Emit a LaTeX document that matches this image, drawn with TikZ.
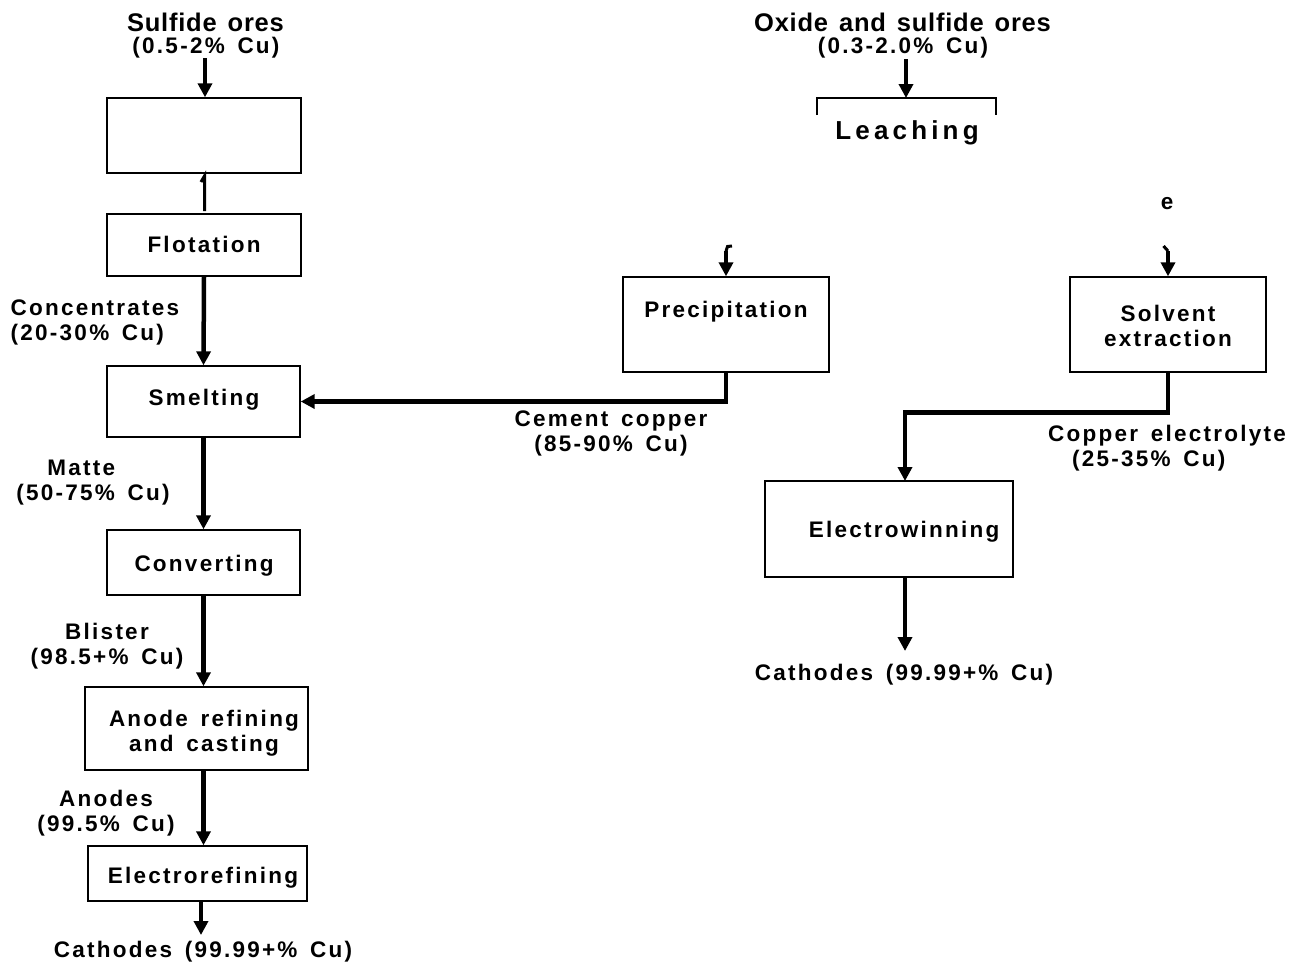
\documentclass[tikz,border=0pt]{standalone}
\usepackage{fontspec}
\usetikzlibrary{arrows.meta}
\newfontfamily\labfont{Liberation Sans}[LetterSpace=10,WordSpace=1.5]
\newfontfamily\ttlfont{Liberation Sans}[LetterSpace=3,WordSpace=1.4]
\newfontfamily\leachfont{Liberation Sans}[LetterSpace=16]
\tikzset{
  lab/.style={font=\fontsize{22.5bp}{25bp}\selectfont\labfont\bfseries, align=center, inner sep=0pt, yshift=-2bp},
  ttl/.style={font=\fontsize{25.5bp}{28bp}\selectfont\ttlfont\bfseries, inner sep=0pt, yshift=-1bp},
  box/.style={draw, line width=1.4bp, inner sep=0pt},
  flow/.style={line width=4.5bp, -{Triangle[width=14bp,length=14bp]}},
  stub/.style={line width=3bp},
  thin/.style={line width=1.4bp}
}
\begin{document}
\begin{tikzpicture}[x=1bp,y=-1bp]
\useasboundingbox (0,0) rectangle (1304,963);

% ---- left column
\node[ttl] (t1) at (205.5,21) {Sulfide ores};
\node[lab] (t1s) at (206,46) {(0.5-2\% Cu)};
\node[box, minimum width=194bp, minimum height=75bp] (grind) at (204,135.5) {};
\node[box, minimum width=194bp, minimum height=62bp] (flot) at (204,245) {};
\node[lab] (flott) at (204,242) {Flotation};
\node[box, minimum width=193bp, minimum height=71bp] (smelt) at (203.5,401.5) {};
\node[lab] (smeltt) at (204,398) {Smelting};
\node[box, minimum width=193bp, minimum height=65bp] (conv) at (203.5,562.5) {};
\node[lab] (convt) at (204,564) {Converting};
\node[box, minimum width=223bp, minimum height=83bp] (anode) at (196.5,728.5) {};
\node[lab] (anodet) at (204,731) {Anode refining\\and casting};
\node[box, minimum width=219bp, minimum height=55bp] (eref) at (197.5,873.5) {};
\node[lab] (ereft) at (203,876) {Electrorefining};
\node[lab] (cath1) at (203,950) {Cathodes (99.99+\% Cu)};

\node[lab, align=left] (conc) at (95,320) {Concentrates\\(20-30\% Cu)};
\node[lab, align=left] (matte) at (93,480.5) {\hspace*{31bp}Matte\\(50-75\% Cu)};
\node[lab] (blister) at (107,644.5) {Blister\\(98.5+\% Cu)};
\node[lab] (anodes) at (106,811.5) {Anodes\\(99.5\% Cu)};

\coordinate (a0) at (205,58);
\draw[flow] (a0) -- (a0 |- grind.north);
\coordinate (s0) at (204.5,211);
\draw[stub] (201,182) coordinate (s1) -- (204.5,176) coordinate (s2) -- (s0);
\draw[flow] (flot.south) -- (smelt.north);
\draw[flow] (smelt.south) -- (conv.north);
\draw[flow] (conv.south) -- (conv.south |- anode.north);
\draw[flow] (anode.south -| conv.south) -- (conv.south |- eref.north);
\coordinate (e0) at (201,901);
\draw[flow] (e0) -- (201,935) coordinate (c1);

% ---- right part
\node[ttl] (t2) at (902.5,21) {Oxide and sulfide ores};
\node[lab] (t2s) at (903,46) {(0.3-2.0\% Cu)};
\coordinate (lt) at (906,98);
\draw[thin] (817,115) coordinate (l1) -- (817,98) coordinate (l2) -- (996,98) coordinate (l3) -- (996,115) coordinate (l4);
\node[font=\fontsize{26bp}{28bp}\selectfont\leachfont\bfseries, inner sep=0pt, yshift=-2bp] (leach) at (907,131) {Leaching};
\draw[flow] (906,59) coordinate (a2) -- (lt);

\node[lab] (e) at (1167,202) {e};

\node[box, minimum width=206bp, minimum height=95bp] (precip) at (726,324.5) {};
\node[lab] (precipt) at (726,310) {Precipitation};
\node[box, minimum width=196bp, minimum height=95bp] (solv) at (1168,324.5) {};
\node[lab] (solvt) at (1168,323.5) {Solvent\\extraction};
\node[box, minimum width=248bp, minimum height=96bp] (ewin) at (889,529) {};
\node[lab] (ewint) at (904,530) {Electrowinning};
\node[lab] (cath2) at (904,673) {Cathodes (99.99+\% Cu)};

\node[lab] (cement) at (611,431.5) {Cement copper\\(85-90\% Cu)};
\node[lab, align=left] (celec) at (1167,446.5) {Copper electrolyte\\\hspace*{24bp}(25-35\% Cu)};

% precipitation input with hook
\draw[stub] (732,246) coordinate (p1) -- (727.5,246.5) coordinate (p2) -- (726,251) coordinate (p3);
\draw[flow] (p3) -- (precip.north);
% solvent input with hook
\draw[stub] (1163.5,246) coordinate (q1) -- (1168,251) coordinate (q2);
\draw[flow] (q2) -- (solv.north);

% precipitation -> smelting
\draw[flow] (precip.south) |- (smelt.east);
% solvent extraction -> electrowinning
\coordinate (ew) at (905,481);
\draw[flow] (solv.south) -- ++(0,40) coordinate (j1) -| (ew);
% electrowinning -> cathodes
\draw[flow] (905,577) coordinate (ew2) -- (905,651) coordinate (c2);
\end{tikzpicture}
\end{document}
